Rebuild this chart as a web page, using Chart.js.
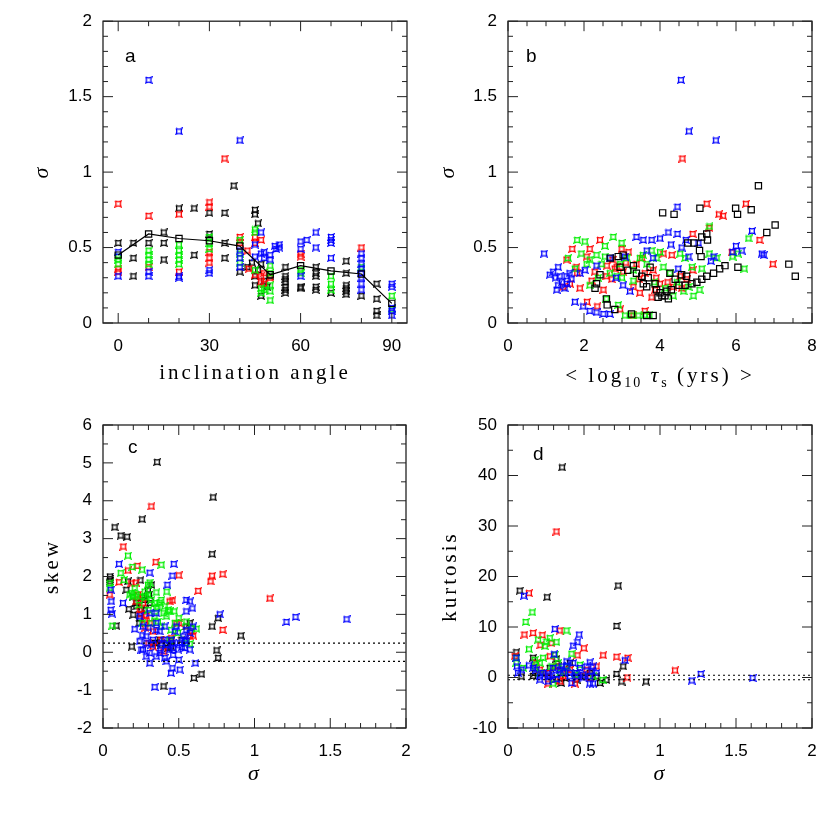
<!DOCTYPE html>
<html>
<head>
<meta charset="utf-8">
<script src="https://cdn.jsdelivr.net/npm/chart.js@4.4.1/dist/chart.umd.min.js"></script>
<style>
  body { margin: 0; background: #fff; }
  #wrap { position: relative; width: 830px; height: 830px; }
  #wrap canvas { position: absolute; left: 0; top: 0; }
</style>
</head>
<body>
<div id="wrap">
  <canvas id="pa" width="830" height="830"></canvas>
  <canvas id="pb" width="830" height="830"></canvas>
  <canvas id="pc" width="830" height="830"></canvas>
  <canvas id="pd" width="830" height="830"></canvas>
</div>
<script>
/* ── panel a : sigma vs inclination angle ───────────────── */
const aXTicks = [0, 30, 60, 90];
const aYTicks = [0, 0.5, 1, 1.5, 2];
const aLineX  = [0, 10, 20, 30, 40, 50, 60, 70, 80, 90];
const aLineY  = [0.45, 0.59, 0.56, 0.545, 0.51, 0.32, 0.38, 0.345, 0.325, 0.13];
const aBlack = [[0,0.53],[5,0.53],[5,0.43],[5,0.31],[10,0.53],[15,0.60],[15,0.53],[15,0.42],[20,0.76],[25,0.76],[25,0.45],
  [30,0.73],[30,0.59],[35,0.73],[35,0.53],[35,0.43],[38,0.91],[40,0.34],[42.5,0.37],[45,0.75],[45,0.72],[46,0.66],[45,0.31],
  [45,0.25],[47,0.39],[47,0.18],[50,0.31],[44,0.40],[46,0.35],[48,0.28],[49,0.24],[55,0.37],[55,0.31],[55,0.29],[55,0.27],
  [55,0.24],[55,0.22],[55,0.20],[60,0.24],[60,0.23],[65,0.37],[65,0.33],[65,0.31],[65,0.24],[65,0.22],[70,0.20],[75,0.41],
  [75,0.33],[75,0.25],[75,0.23],[75,0.21],[75,0.19],[80,0.18],[85,0.26],[85,0.16],[85,0.08],[85,0.05]];
const aRed = [[0,0.79],[0,0.36],[0,0.34],[10,0.71],[10,0.37],[20,0.72],[20,0.34],[30,0.80],[30,0.77],[30,0.47],[30,0.43],
  [30,0.40],[35,1.09],[40,0.57],[40,0.53],[42.5,0.48],[43,0.36],[45,0.57],[45,0.53],[45,0.32],[47,0.55],[47,0.31],[47,0.27],
  [48,0.26],[50,0.30],[48,0.33],[60,0.46],[60,0.44],[80,0.50]];
const aGreen = [[0,0.44],[0,0.42],[0,0.39],[10,0.48],[10,0.45],[10,0.42],[10,0.39],[20,0.52],[20,0.48],[20,0.45],[20,0.42],
  [20,0.39],[30,0.57],[30,0.53],[30,0.49],[40,0.55],[40,0.46],[40,0.40],[45,0.62],[45,0.60],[45,0.35],[47,0.23],[47,0.20],
  [48,0.22],[50,0.38],[50,0.33],[50,0.25],[50,0.21],[50,0.15],[60,0.35],[60,0.33],[70,0.31],[70,0.26],[70,0.22],[80,0.37],
  [90,0.18],[90,0.09]];
const aBlue = [[0,0.47],[0,0.31],[10,1.61],[10,0.34],[10,0.31],[20,1.27],[20,0.31],[20,0.30],[30,0.35],[30,0.33],[40,1.21],
  [40,0.48],[40,0.43],[40,0.37],[45,0.52],[45,0.44],[47,0.60],[47,0.46],[48,0.47],[48,0.43],[50,0.45],[50,0.42],[51.5,0.51],
  [52,0.49],[53,0.52],[53,0.50],[60,0.54],[60,0.49],[60,0.31],[62,0.55],[65,0.60],[65,0.50],[70,0.57],[70,0.55],[70,0.53],
  [70,0.43],[80,0.46],[80,0.43],[80,0.39],[80,0.36],[80,0.33],[80,0.30],[80,0.26],[80,0.22],[90,0.26],[90,0.24],[90,0.10],
  [90,0.08],[90,0.05]];

/* ── panel b : sigma vs <log10 tau_s> ───────────────────── */
const bXTicks = [0, 2, 4, 6, 8];
const bYTicks = [0, 0.5, 1, 1.5, 2];
const bBlack = [[6.59,0.91],[4.07,0.73],[4.37,0.72],[5.05,0.76],[5.99,0.76],[6.04,0.72],[6.40,0.75],[7.03,0.65],[6.81,0.60],
  [7.39,0.39],[7.56,0.31],[5.57,0.36],[5.71,0.38],[6.05,0.37],[5.23,0.59],[5.25,0.55],[5.10,0.57],[5.04,0.48],[5.08,0.44],
  [4.73,0.53],[4.90,0.53],[5.41,0.33],[5.23,0.31],[5.10,0.29],[4.97,0.27],[4.84,0.26],[4.66,0.25],[4.26,0.33],[4.40,0.29],
  [4.18,0.21],[4.13,0.18],[4.22,0.16],[4.00,0.20],[3.91,0.22],[3.65,0.24],[3.56,0.26],[3.82,0.05],[3.65,0.05],[3.25,0.06],
  [2.81,0.09],[2.61,0.12],[2.59,0.16],[2.33,0.26],[2.29,0.23],[2.42,0.32],[2.90,0.44],[3.03,0.45],[2.95,0.37],[2.69,0.43],
  [3.38,0.33],[3.52,0.31],[3.69,0.30],[3.87,0.26],[4.70,0.31],[4.57,0.32],[3.74,0.37],[3.95,0.17],[4.05,0.18],[4.30,0.22],
  [4.50,0.25],[3.30,0.38],[3.15,0.35]];
const bRed = [[4.59,1.09],[5.23,0.79],[6.26,0.79],[5.55,0.72],[5.66,0.71],[5.30,0.63],[4.86,0.59],[6.62,0.55],[6.97,0.39],
  [5.89,0.47],[1.69,0.49],[2.15,0.49],[2.42,0.55],[2.99,0.49],[3.17,0.47],[3.38,0.39],[2.86,0.37],[2.07,0.44],[1.80,0.37],
  [1.54,0.42],[1.63,0.26],[1.89,0.23],[2.08,0.14],[2.35,0.11],[2.81,0.36],[3.03,0.34],[3.30,0.24],[3.47,0.20],[3.78,0.17],
  [3.60,0.08],[3.30,0.05],[4.09,0.46],[4.31,0.45],[4.53,0.31],[4.70,0.29],[4.57,0.23],[4.35,0.24],[4.00,0.26],[3.87,0.22],
  [4.86,0.35],[3.82,0.35],[2.59,0.31],[2.73,0.29],[2.51,0.22],[2.95,0.09],[1.45,0.24],[1.82,0.33],[2.20,0.28],[3.52,0.43],
  [2.28,0.34],[2.60,0.38],[3.10,0.40],[3.60,0.33],[3.90,0.30],[4.20,0.27],[3.45,0.29],[2.75,0.42]];
const bGreen = [[1.82,0.55],[2.02,0.54],[2.77,0.57],[2.99,0.53],[2.55,0.51],[1.93,0.46],[1.58,0.43],[2.15,0.42],[2.33,0.45],
  [2.46,0.39],[2.68,0.33],[2.95,0.39],[3.12,0.43],[3.30,0.35],[3.47,0.43],[3.65,0.39],[3.78,0.48],[3.91,0.43],[4.09,0.37],
  [4.26,0.33],[4.53,0.46],[4.66,0.43],[4.84,0.37],[5.10,0.36],[5.30,0.46],[5.49,0.43],[5.30,0.64],[5.91,0.44],[6.22,0.36],
  [6.33,0.56],[6.05,0.46],[5.04,0.22],[4.88,0.18],[4.62,0.21],[4.35,0.18],[4.13,0.23],[2.59,0.16],[2.90,0.12],[3.08,0.05],
  [3.25,0.05],[3.43,0.05],[3.60,0.05],[3.72,0.05],[2.15,0.25],[2.37,0.30],[2.86,0.31],[1.76,0.36],[2.07,0.39],
  [3.00,0.30],[3.30,0.28],[3.85,0.27],[4.45,0.27],[4.75,0.24],[2.55,0.44],[3.55,0.45],[4.00,0.47]];
const bBlue = [[0.95,0.46],[1.19,0.34],[1.32,0.37],[1.36,0.31],[1.32,0.25],[1.54,0.31],[1.67,0.29],[1.89,0.33],[2.02,0.35],
  [2.33,0.38],[1.76,0.14],[1.98,0.11],[2.15,0.08],[2.33,0.07],[2.51,0.06],[2.68,0.06],[1.49,0.23],[2.84,0.30],[3.03,0.25],
  [3.21,0.21],[2.68,0.43],[3.08,0.44],[3.38,0.57],[3.56,0.55],[3.78,0.55],[4.00,0.56],[4.22,0.60],[4.46,0.59],[4.29,0.52],
  [4.57,0.50],[4.68,0.55],[4.75,0.44],[5.01,0.53],[5.34,0.41],[5.41,0.44],[5.91,0.47],[6.00,0.51],[6.15,0.48],[6.42,0.61],
  [6.73,0.45],[6.68,0.46],[4.46,0.77],[4.48,0.36],[3.65,0.48],[3.82,0.43],[4.55,1.61],[4.76,1.27],[5.47,1.21],
  [1.25,0.30],[1.42,0.27],[1.55,0.26],[1.62,0.33],[1.10,0.32],[1.28,0.22]];

/* ── panel c : skew vs sigma ────────────────────────────── */
const cXTicks = [0, 0.5, 1, 1.5, 2];
const cYTicks = [-2, -1, 0, 1, 2, 3, 4, 5, 6];
const cLimits = [0.24, -0.24];
const cBlack = [[0.357,5.02],[0.727,4.09],[0.258,3.51],[0.077,3.30],[0.117,3.08],[0.159,3.05],[0.72,2.59],[0.046,2.0],
  [0.046,1.93],[0.046,1.87],[0.165,1.87],[0.154,1.65],[0.247,1.9],[0.32,1.78],[0.17,1.14],[0.2,0.99],[0.24,0.77],[0.76,0.90],
  [0.72,0.68],[0.91,0.44],[0.19,0.15],[0.385,0.2],[0.43,0.11],[0.75,0.05],[0.76,-0.15],[0.6,-0.68],[0.65,-0.58],[0.40,-0.9],
  [0.088,0.70],[0.55,0.68],[0.304,1.52],[0.275,1.12],[0.22,1.3],[0.26,1.45],[0.34,0.25],[0.45,0.30],
  [0.198,1.47],[0.22,1.21],[0.253,1.12],[0.275,1.38],[0.297,1.65],[0.308,1.3],[0.352,0.24],[0.419,0.24],[0.45,0.15],
  [0.374,0.33],[0.518,0.33],[0.573,0.77],[0.242,0.9]];
const cRed = [[0.319,3.85],[0.134,2.79],[0.165,2.16],[0.227,2.28],[0.348,2.38],[0.50,2.03],[0.106,1.85],[0.216,1.84],
  [0.71,1.87],[0.72,2.02],[0.79,2.06],[0.628,1.62],[1.101,1.42],[0.79,0.59],[0.458,1.37],[0.275,0.86],[0.30,0.24],[0.40,0.02],
  [0.50,0.77],[0.595,0.44],[0.22,1.34],[0.33,0.55],[0.044,1.52],[0.25,1.0],[0.28,0.65],
  [0.231,1.52],[0.264,1.3],[0.286,0.95],[0.308,0.77],[0.44,1.34],[0.485,0.77],[0.573,0.42],[0.385,0.33],[0.33,0.15],
  [0.45,0.37],[0.584,0.55],[0.242,1.12],[0.187,1.82]];
const cGreen = [[0.165,2.55],[0.117,2.09],[0.194,2.25],[0.258,2.18],[0.385,2.31],[0.139,1.91],[0.308,1.84],[0.42,1.6],
  [0.352,1.58],[0.19,1.56],[0.22,1.52],[0.374,1.31],[0.43,1.12],[0.47,1.08],[0.55,0.81],[0.617,0.62],[0.573,0.22],[0.062,0.70],
  [0.044,1.82],[0.30,1.12],[0.24,1.25],[0.34,0.95],[0.40,1.03],[0.26,0.77],[0.45,0.59],[0.044,1.7],[0.28,1.45],[0.36,1.2],[0.5,0.9],
  [0.176,1.52],[0.198,1.47],[0.242,1.47],[0.275,1.6],[0.297,1.52],[0.319,1.38],[0.341,1.30],[0.352,1.16],[0.385,1.38],
  [0.407,1.21],[0.44,1.08],[0.419,0.95],[0.363,0.81],[0.319,0.77],[0.385,0.68],[0.474,0.77],[0.495,0.51],[0.584,0.64],
  [0.297,1.78],[0.209,1.69],[0.44,0.33],[0.55,0.24]];
const cBlue = [[0.106,2.33],[0.467,2.33],[0.308,2.1],[0.458,2.02],[0.425,1.78],[0.051,1.65],[0.055,1.34],[0.051,1.12],
  [0.06,1.02],[0.132,1.30],[0.55,1.38],[0.573,1.34],[0.59,1.16],[0.55,1.08],[0.771,1.0],[1.211,0.80],[1.271,0.93],[1.608,0.87],
  [0.209,0.61],[0.352,1.03],[0.352,0.77],[0.242,0.29],[0.253,0.07],[0.308,-0.02],[0.308,-0.29],[0.407,-0.15],[0.463,-0.07],
  [0.5,-0.2],[0.507,-0.46],[0.458,-0.42],[0.449,-0.55],[0.61,-0.29],[0.341,-0.92],[0.458,-1.02],[0.40,0.33],[0.46,0.24],
  [0.53,0.42],[0.485,0.68],[0.286,0.42],[0.44,0.07],[0.52,0.14],[0.374,0.55],[0.26,0.45],[0.32,0.2],[0.38,0.05],[0.55,0.3],[0.3,0.65],
  [0.242,0.95],[0.264,0.68],[0.286,0.24],[0.33,0.33],[0.352,0.59],[0.385,0.24],[0.419,0.2],[0.463,0.11],[0.507,0.24],
  [0.54,0.33],[0.55,0.59],[0.573,0.51],[0.595,0.68],[0.474,0.55],[0.407,0.68],[0.264,0.07],[0.374,-0.02],[0.419,-0.24],
  [0.496,0.07],[0.54,0.11],[0.573,0.07],[0.352,-0.11],[0.286,-0.11],[0.45,0.33],[0.308,1.03]];

/* ── panel d : kurtosis vs sigma ────────────────────────── */
const dXTicks = [0, 0.5, 1, 1.5, 2];
const dYTicks = [-10, 0, 10, 20, 30, 40, 50];
const dLimits = [0.45, -0.45];
const dBlack = [[0.356,41.6],[0.725,18.2],[0.257,15.9],[0.077,17.2],[0.714,10.2],[0.055,5.0],[0.165,3.9],[0.758,2.2],
  [0.714,0.7],[0.747,-0.8],[0.908,-0.8],[0.088,0.2],[0.165,0.3],[0.648,-0.5],[0.35,-1.1],[0.319,3.7],[0.275,1.9],[0.407,2.9],
  [0.538,0.9],[0.22,0.9],[0.176,0.9],[0.264,0.23],[0.33,2.2],[0.374,-0.1],[0.451,-0.43],[0.297,-0.43],[0.506,0.23],
  [0.582,0.23],[0.605,-1.1]];
const dRed = [[0.319,28.9],[0.138,16.7],[0.108,8.5],[0.165,8.8],[0.226,8.4],[0.34,9.3],[0.213,6.4],[0.286,6.8],[0.499,5.8],
  [0.457,4.4],[0.626,4.4],[0.714,4.1],[0.787,3.9],[1.099,1.4],[0.785,0.0],[0.44,-1.2],[0.264,-1.2],[0.582,2.2],[0.385,1.6],
  [0.044,4.2],[0.187,2.9],[0.275,4.2],[0.209,1.55],[0.264,0.9],[0.319,2.2],[0.363,0.23],[0.407,1.55],[0.462,0.23],
  [0.517,1.55],[0.341,-0.76],[0.538,-0.1]];
const dGreen = [[0.16,12.9],[0.116,11.0],[0.138,5.6],[0.198,7.5],[0.253,7.1],[0.275,7.8],[0.319,7.0],[0.385,9.3],[0.242,6.2],
  [0.418,4.7],[0.473,2.5],[0.56,0.2],[0.622,-0.5],[0.297,-1.2],[0.176,2.2],[0.209,2.9],[0.308,4.5],[0.055,2.9],[0.055,3.9],
  [0.367,1.2],[0.446,0.5],[0.176,3.5],[0.231,3.9],[0.286,2.2],[0.341,0.9],[0.385,2.2],[0.44,0.9],[0.209,0.9],[0.1,1.9],[0.33,2.87]];
const dBlue = [[0.105,16.2],[0.308,9.6],[0.468,8.5],[0.457,7.0],[0.429,6.3],[0.303,4.6],[0.138,2.4],[0.055,3.9],[0.059,2.2],
  [0.066,0.9],[0.538,3.0],[0.56,2.2],[0.769,3.4],[0.538,-1.2],[1.209,-0.6],[1.268,0.7],[1.609,-0.1],[0.352,2.2],[0.407,0.9],
  [0.451,0.2],[0.264,0.6],[0.319,-0.3],[0.495,0.0],[0.209,0.2],[0.385,3.2],[0.187,1.55],[0.231,0.9],[0.275,0.23],
  [0.319,0.56],[0.363,0.9],[0.407,0.23],[0.451,0.9],[0.495,0.56],[0.538,0.23],[0.582,0.9],[0.385,2.2],[0.429,2.87],
  [0.473,1.9],[0.517,2.2],[0.55,1.2],[0.297,1.9],[0.341,1.55],[0.209,-0.43],[0.264,-0.76],[0.418,-1.1],[0.56,-1.2],
  [0.088,1.55],[0.165,1.9]];

/* ── drawing helpers ────────────────────────────────────── */
const W = 830;
const TICK_FONT = { family: '"Liberation Sans", Arial, sans-serif', size: 17, lineHeight: 1.2 };
const SERIF  = '21px "Liberation Serif", "Times New Roman", serif';
const SUB    = '14px "Liberation Serif", "Times New Roman", serif';
const GREEK  = 'italic 22px "Liberation Serif", "Times New Roman", serif';

// small concave square, the marker used for every coloured point
function mark(color) {
  const c = document.createElement('canvas');
  c.width = c.height = 8;
  const g = c.getContext('2d');
  g.strokeStyle = color;
  g.lineWidth = 1.3;
  g.beginPath();
  g.moveTo(1, 1);
  g.quadraticCurveTo(4, 2.6, 7, 1);
  g.quadraticCurveTo(5.4, 4, 7, 7);
  g.quadraticCurveTo(4, 5.4, 1, 7);
  g.quadraticCurveTo(2.6, 4, 1, 1);
  g.stroke();
  return c;
}
const MARK = { black: mark('#000'), red: mark('#ff0000'), green: mark('#00ee00'), blue: mark('#0000ff') };

const pts = arr => arr.map(([x, y]) => ({ x, y }));

function starSet(arr, color) {
  return { data: pts(arr), pointStyle: MARK[color], pointRadius: 4, showLine: false };
}
function squareSet(arr, line) {
  return {
    data: pts(arr), pointStyle: 'rect', pointRadius: 4.4, pointBorderWidth: 1.2,
    pointBorderColor: '#000', pointBackgroundColor: 'rgba(0,0,0,0)',
    showLine: line, borderColor: '#000', borderWidth: 1.2
  };
}
function limitSet(yv, x0, x1) {
  return {
    type: 'line', data: [{ x: x0, y: yv }, { x: x1, y: yv }], pointRadius: 0,
    borderColor: '#000', borderWidth: 1.1, borderDash: [2, 3], showLine: true
  };
}

function ticksAlong(scale, majors, step, fn) {
  for (let k = Math.ceil(scale.min / step - 1e-9); k * step <= scale.max + 1e-9; k++) {
    const v = k * step;
    const major = majors.some(m => Math.abs(m - v) < step / 100);
    fn(scale.getPixelForValue(v), major ? 10 : 5);
  }
}

function drawRuns(ctx, runs, cx, baseY) {
  let total = 0;
  for (const r of runs) {
    ctx.font = r.font; ctx.letterSpacing = (r.ls || 0) + 'px';
    total += ctx.measureText(r.t).width;
  }
  let x = cx - total / 2;
  ctx.textAlign = 'left';
  ctx.textBaseline = 'alphabetic';
  for (const r of runs) {
    ctx.font = r.font; ctx.letterSpacing = (r.ls || 0) + 'px';
    ctx.fillText(r.t, x, baseY + (r.dy || 0));
    x += ctx.measureText(r.t).width;
  }
  ctx.letterSpacing = '0px';
}

// frame, inward ticks on all sides, panel letter and axis titles
function deco(p) {
  return {
    id: 'deco',
    afterDraw(chart) {
      const { ctx, chartArea: a, scales } = chart;
      ctx.save();
      ctx.strokeStyle = '#222';
      ctx.lineWidth = 1;
      ctx.beginPath();
      ticksAlong(scales.x, p.xTicks, p.xMinor, (px, len) => {
        ctx.moveTo(px, a.bottom); ctx.lineTo(px, a.bottom - len);
        ctx.moveTo(px, a.top);    ctx.lineTo(px, a.top + len);
      });
      ticksAlong(scales.y, p.yTicks, p.yMinor, (py, len) => {
        ctx.moveTo(a.left, py);  ctx.lineTo(a.left + len, py);
        ctx.moveTo(a.right, py); ctx.lineTo(a.right - len, py);
      });
      ctx.stroke();
      ctx.lineWidth = 1.3;
      ctx.strokeRect(a.left, a.top, a.right - a.left, a.bottom - a.top);

      ctx.fillStyle = '#000';
      ctx.font = '19px "Liberation Sans", Arial, sans-serif';
      ctx.textAlign = 'left';
      ctx.fillText(p.letter, a.left + p.letterAt[0], a.top + p.letterAt[1]);

      drawRuns(ctx, p.xTitle, (a.left + a.right) / 2 + (p.xTitleDx || 0), a.bottom + p.xTitleDy);
      ctx.translate(a.left - p.yTitleDx, (a.top + a.bottom) / 2 + (p.yTitleDy || 0));
      ctx.rotate(-Math.PI / 2);
      drawRuns(ctx, p.yTitle, 0, 0);
      ctx.restore();
    }
  };
}

function makePanel(id, p) {
  const [L, T, R, B] = p.box;
  const axis = (min, max, ticks, extra) => Object.assign({
    type: 'linear', min, max,
    grid: { display: false, drawTicks: false },
    border: { display: false },
    ticks: { font: TICK_FONT, color: '#000', autoSkip: false, maxRotation: 0, callback: v => String(v) },
    afterBuildTicks: s => { s.ticks = ticks.map(v => ({ value: v })); }
  }, extra);
  const xAxis = axis(p.xRange[0], p.xRange[1], p.xTicks, { afterFit: s => { s.height = 40; } });
  xAxis.ticks.padding = 13;
  const yAxis = axis(p.yRange[0], p.yRange[1], p.yTicks, { afterFit: s => { s.width = 40; } });
  yAxis.ticks.padding = 11;
  return new Chart(document.getElementById(id), {
    type: 'scatter',
    data: { datasets: p.datasets },
    options: {
      responsive: false, animation: false, devicePixelRatio: 1,
      layout: { padding: { left: L - 40, top: T, right: W - R, bottom: W - B - 40 } },
      plugins: { legend: { display: false }, tooltip: { enabled: false } },
      scales: { x: xAxis, y: yAxis }
    },
    plugins: [deco(p)]
  });
}

const sigmaY = [{ t: 'σ', font: GREEK }];
const sigmaX = [{ t: 'σ', font: GREEK }];

makePanel('pa', {
  box: [103, 19, 407, 323], xRange: [-5, 95], yRange: [0, 2],
  xTicks: aXTicks, yTicks: aYTicks, xMinor: 10, yMinor: 0.1,
  letter: 'a', letterAt: [22, 41],
  xTitle: [{ t: 'inclination angle', font: SERIF, ls: 3 }], xTitleDy: 56,
  yTitle: sigmaY, yTitleDx: 55.5, yTitleDy: 1,
  datasets: [
    squareSet(aLineX.map((x, i) => [x, aLineY[i]]), true),
    starSet(aBlue, 'blue'), starSet(aGreen, 'green'), starSet(aRed, 'red'), starSet(aBlack, 'black')
  ]
});

makePanel('pb', {
  box: [508, 19, 812, 323], xRange: [0, 8], yRange: [0, 2],
  xTicks: bXTicks, yTicks: bYTicks, xMinor: 0.5, yMinor: 0.1,
  letter: 'b', letterAt: [18, 41],
  xTitle: [
    { t: '< log', font: SERIF, ls: 3 }, { t: '10', font: SUB, ls: 2, dy: 5 },
    { t: ' ', font: SERIF, ls: 3 }, { t: 'τ', font: GREEK, ls: 3 }, { t: 's', font: SUB, ls: 2, dy: 5 },
    { t: ' (yrs) >', font: SERIF, ls: 3 }
  ], xTitleDy: 59,
  yTitle: sigmaY, yTitleDx: 54.5, yTitleDy: 1,
  datasets: [
    squareSet(bBlack, false),
    starSet(bBlue, 'blue'), starSet(bGreen, 'green'), starSet(bRed, 'red')
  ]
});

makePanel('pc', {
  box: [103, 425, 406, 728], xRange: [0, 2], yRange: [-2, 6],
  xTicks: cXTicks, yTicks: cYTicks, xMinor: 0.1, yMinor: 0.5,
  letter: 'c', letterAt: [25, 28],
  xTitle: sigmaX, xTitleDy: 52, xTitleDx: -1,
  yTitle: [{ t: 'skew', font: SERIF, ls: 3 }], yTitleDx: 45, yTitleDy: -10,
  datasets: [
    limitSet(cLimits[0], 0, 2), limitSet(cLimits[1], 0, 2),
    starSet(cBlue, 'blue'), starSet(cGreen, 'green'), starSet(cRed, 'red'), starSet(cBlack, 'black')
  ]
});

makePanel('pd', {
  box: [508, 425, 812, 728], xRange: [0, 2], yRange: [-10, 50],
  xTicks: dXTicks, yTicks: dYTicks, xMinor: 0.1, yMinor: 5,
  letter: 'd', letterAt: [25, 35],
  xTitle: sigmaX, xTitleDy: 52, xTitleDx: -1,
  yTitle: [{ t: 'kurtosis', font: SERIF, ls: 3 }], yTitleDx: 52, yTitleDy: 0,
  datasets: [
    limitSet(dLimits[0], 0, 2), limitSet(dLimits[1], 0, 2),
    starSet(dBlue, 'blue'), starSet(dGreen, 'green'), starSet(dRed, 'red'), starSet(dBlack, 'black')
  ]
});
</script>
</body>
</html>
